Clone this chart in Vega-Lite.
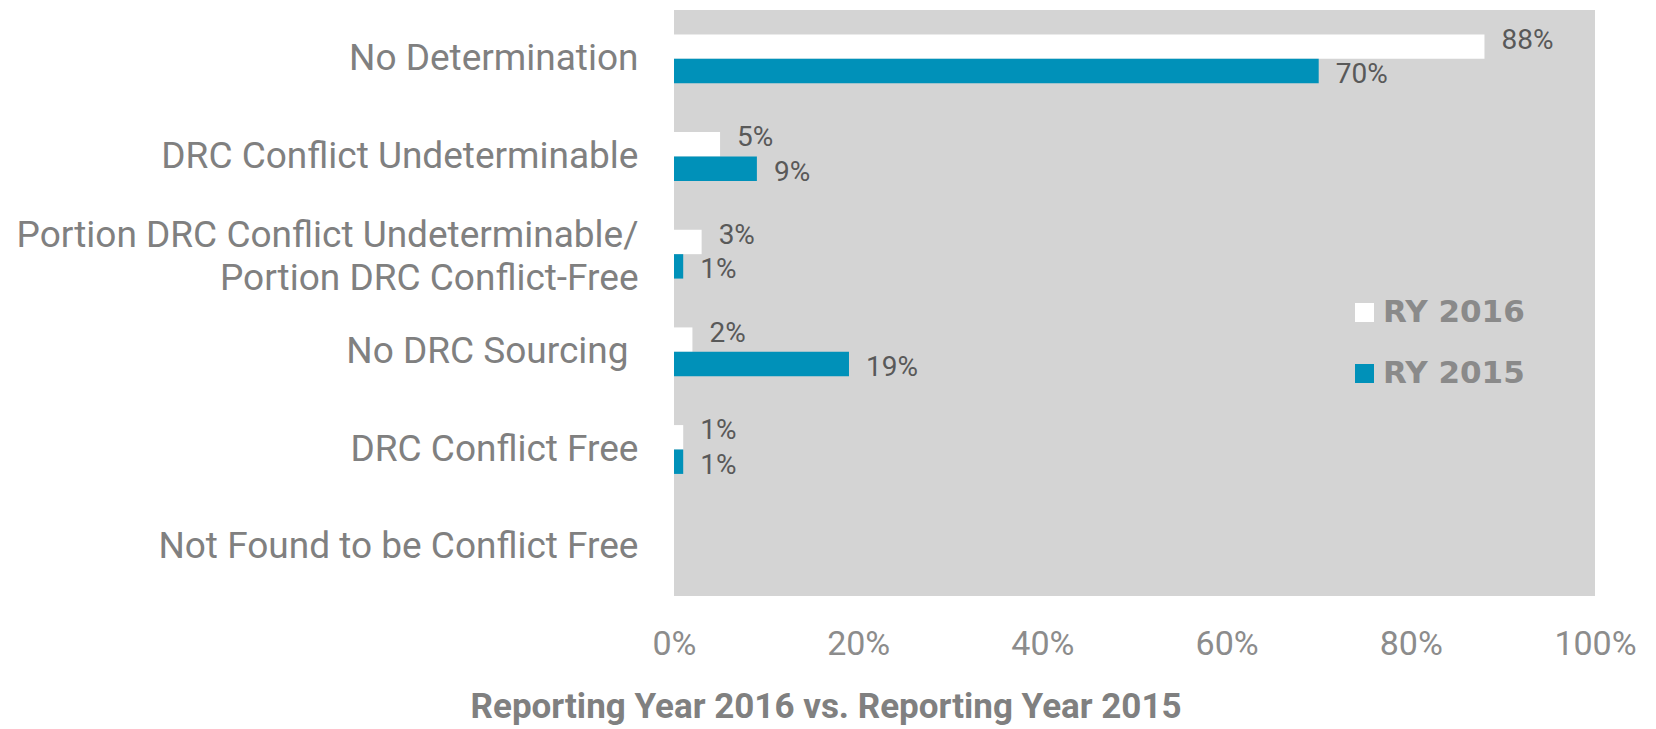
{
  "$schema": "https://vega.github.io/schema/vega-lite/v6.json",
  "autosize": {"type": "none"},
  "padding": {"left": 674, "top": 10, "right": 61, "bottom": 133},
  "width": 921,
  "height": 586,
  "background": "#ffffff",
  "title": {
    "text": "Reporting Year 2016 vs. Reporting Year 2015",
    "orient": "bottom",
    "anchor": "middle",
    "frame": "bounds",
    "font": "Roboto",
    "fontSize": 35,
    "fontWeight": "bold",
    "color": "#808080",
    "offset": 29
  },
  "config": {
    "view": {"fill": "#d4d4d4", "stroke": null}
  },
  "data": {
    "values": [
      {"category": "No Determination", "year": "RY 2016", "value": 0.88},
      {"category": "No Determination", "year": "RY 2015", "value": 0.70},
      {"category": "DRC Conflict Undeterminable", "year": "RY 2016", "value": 0.05},
      {"category": "DRC Conflict Undeterminable", "year": "RY 2015", "value": 0.09},
      {"category": "Portion DRC Conflict Undeterminable/|Portion DRC Conflict-Free", "year": "RY 2016", "value": 0.03},
      {"category": "Portion DRC Conflict Undeterminable/|Portion DRC Conflict-Free", "year": "RY 2015", "value": 0.01},
      {"category": "No DRC Sourcing", "year": "RY 2016", "value": 0.02},
      {"category": "No DRC Sourcing", "year": "RY 2015", "value": 0.19},
      {"category": "DRC Conflict Free", "year": "RY 2016", "value": 0.01},
      {"category": "DRC Conflict Free", "year": "RY 2015", "value": 0.01},
      {"category": "Not Found to be Conflict Free", "year": "RY 2016", "value": 0},
      {"category": "Not Found to be Conflict Free", "year": "RY 2015", "value": 0}
    ]
  },
  "encoding": {
    "y": {
      "field": "category",
      "type": "nominal",
      "sort": null,
      "scale": {"paddingInner": 0.5, "paddingOuter": 0.25},
      "axis": {
        "title": null,
        "ticks": false,
        "domain": false,
        "labelExpr": "split(datum.label, '|')",
        "labelFont": "Roboto",
        "labelFontSize": 37,
        "labelColor": "#808080",
        "labelPadding": {"condition": {"test": "datum.value === 'No DRC Sourcing'", "value": 46}, "value": 36},
        "labelOffset": {"condition": {"test": "indexof(datum.value, '|') >= 0", "value": -18}, "value": 0},
        "labelLimit": 700,
        "labelLineHeight": 43
      }
    },
    "yOffset": {
      "field": "year",
      "type": "nominal",
      "sort": ["RY 2016", "RY 2015"]
    },
    "x": {
      "field": "value",
      "type": "quantitative",
      "scale": {"domain": [0, 1]},
      "axis": {
        "title": null,
        "format": ".0%",
        "values": [0, 0.2, 0.4, 0.6, 0.8, 1],
        "grid": false,
        "ticks": false,
        "domain": false,
        "labelFont": "Roboto",
        "labelFontSize": 34,
        "labelColor": "#8c8c8c",
        "labelPadding": 31,
        "labelFlush": false
      }
    }
  },
  "layer": [
    {
      "mark": {"type": "bar"},
      "encoding": {
        "color": {
          "field": "year",
          "type": "nominal",
          "scale": {"domain": ["RY 2016", "RY 2015"], "range": ["#ffffff", "#0091b9"]},
          "legend": {
            "title": null,
            "orient": "none",
            "legendX": 675,
            "legendY": 287,
            "symbolType": "square",
            "symbolSize": 361,
            "symbolStrokeWidth": 0,
            "labelFont": "DejaVu Sans",
            "labelFontSize": 31,
            "labelFontWeight": "bold",
            "labelColor": "#8a8a8a",
            "labelOffset": 3,
            "rowPadding": 29
          }
        }
      }
    },
    {
      "transform": [{"filter": "datum.value > 0 && datum.year === 'RY 2016'"}],
      "mark": {
        "type": "text",
        "align": "left",
        "baseline": "middle",
        "dx": 17,
        "dy": -6,
        "font": "Roboto",
        "fontSize": 28,
        "color": "#595959"
      },
      "encoding": {
        "text": {"field": "value", "type": "quantitative", "format": ".0%"}
      }
    },
    {
      "transform": [{"filter": "datum.value > 0 && datum.year === 'RY 2015'"}],
      "mark": {
        "type": "text",
        "align": "left",
        "baseline": "middle",
        "dx": 17,
        "dy": 4,
        "font": "Roboto",
        "fontSize": 28,
        "color": "#595959"
      },
      "encoding": {
        "text": {"field": "value", "type": "quantitative", "format": ".0%"}
      }
    }
  ]
}
